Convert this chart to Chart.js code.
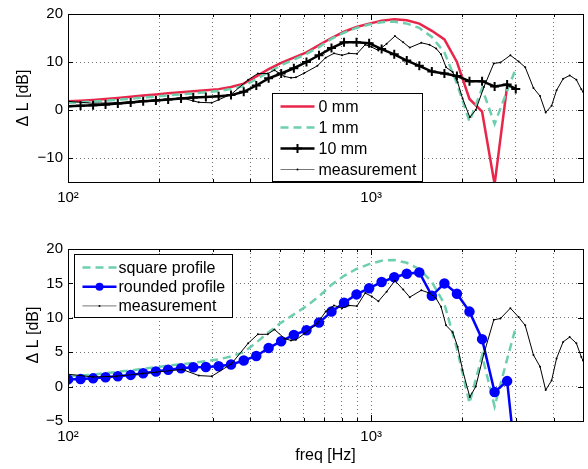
<!DOCTYPE html>
<html>
<head>
<meta charset="utf-8">
<script src="https://cdn.jsdelivr.net/npm/chart.js@4"></script>
<style>
  html, body { margin: 0; padding: 0; background: #fff; overflow: hidden; }
  #wrap { position: relative; width: 588px; height: 469px; overflow: hidden; }
  canvas { position: absolute; left: 0; }
  #top-chart { top: 0; }
  #bottom-chart { top: 225px; }
</style>
</head>
<body>
<div id="wrap">
  <canvas id="top-chart" width="590" height="225"></canvas>
  <canvas id="bottom-chart" width="590" height="244"></canvas>
</div>
<script>
// frequency grid of the simulations (Hz)
const modelFreq = [100, 110, 121, 133, 146, 161, 177, 195, 214, 236, 259, 285, 314, 345, 380, 418, 459, 505, 556, 612, 673, 740, 814, 895, 985, 1083, 1192, 1311, 1442, 1586, 1745, 1919, 2111, 2323, 2555, 2810, 3000];

// top panel: gap width series (dB)
const gap0mm = [1.8, 1.95, 2.1, 2.3, 2.5, 2.75, 3.0, 3.25, 3.5, 3.7, 3.9, 4.1, 4.35, 4.8, 5.5, 7.0, 8.5, 9.8, 10.9, 12.0, 13.5, 15.0, 16.3, 17.3, 18.0, 18.6, 18.9, 18.7, 18.0, 16.5, 14.7, 10.0, 2.3, -0.35, -15.5, 5.0, null];
const gap1mm = [1.5, 1.6, 1.75, 1.95, 2.15, 2.35, 2.6, 2.8, 3.05, 3.25, 3.45, 3.7, 3.95, 4.4, 5.0, 6.4, 7.9, 9.3, 10.5, 11.7, 13.1, 14.8, 16.1, 17.1, 17.8, 18.3, 18.4, 18.0, 17.1, 15.2, 12.0, 5.5, -2.4, 4.5, -2.9, 4.0, 8.6];
const gap10mm = [0.8, 0.9, 1.0, 1.15, 1.35, 1.55, 1.8, 2.0, 2.2, 2.4, 2.6, 2.7, 2.85, 3.1, 3.8, 5.1, 6.6, 7.6, 8.7, 10.0, 11.4, 12.9, 14.1, 14.1, 13.9, 12.7, 11.6, 10.3, 9.2, 8.0, 7.6, 7.1, 6.0, 6.0, 4.9, 5.3, 4.4];

// bottom panel: the square profile is the 1 mm curve
const roundedProfile = [1.05, 1.1, 1.2, 1.35, 1.5, 1.7, 1.95, 2.2, 2.45, 2.65, 2.8, 2.85, 2.95, 3.2, 3.8, 4.45, 5.6, 6.6, 7.5, 8.2, 9.3, 10.9, 12.2, 13.4, 14.3, 15.2, 15.9, 16.4, 16.6, 13.2, 15.0, 13.5, 10.9, 6.9, -0.8, 0.8, -11];

// measurement (shared by both panels)
const measFreq = [100, 121, 144, 176, 195, 238, 270, 298, 346, 393, 423, 456, 480, 518, 544, 565, 602, 665, 708, 754, 802, 844, 898, 956, 1005, 1057, 1125, 1198, 1276, 1341, 1464, 1558, 1639, 1701, 1767, 1858, 1929, 2003, 2116, 2214, 2356, 2539, 2671, 2880, 3066, 3224, 3431, 3608, 3766, 3940, 4090, 4299, 4520, 4755, 4937, 5000];
const measLevel = [1.8, 1.4, 1.5, 1.9, 2.1, 2.5, 1.6, 1.5, 3.3, 6.3, 7.6, 7.6, 8.3, 7.0, 6.7, 6.8, 7.7, 9.2, 10.9, 11.8, 11.4, 11.8, 11.7, 13.6, 13.1, 12.4, 13.8, 15.4, 14.1, 13.0, 14.0, 13.6, 12.8, 11.6, 8.9, 7.9, 5.8, 2.4, -1.5, 0, 4.8, 9.7, 9.9, 11.4, 10.1, 8.9, 4.6, 2.9, -0.5, 0.9, 4.1, 6.5, 7.2, 6.3, 4.3, 3.8];

// axes
const freqTicks = [100, 200, 300, 400, 500, 600, 700, 800, 900, 1000, 2000, 3000, 4000, 5000];
const decadeTicks = [100, 1000];
const decadeLabels = ['10\u00b2', '10\u00b3'];
const topYTicks = [-10, 0, 10, 20];
const bottomYTicks = [-5, 0, 5, 10, 15, 20];

Chart.defaults.font.family = '"Liberation Sans", Arial, Helvetica, sans-serif';
Chart.defaults.color = '#000';

function pairs(xs, ys) {
  return xs.map((x, i) => ({ x: x, y: ys[i] }));
}

function drawMarker(ctx, style, x, y, r, color) {
  ctx.save();
  ctx.strokeStyle = color;
  ctx.fillStyle = color;
  ctx.setLineDash([]);
  if (style === 'cross') {
    ctx.lineWidth = 2;
    ctx.beginPath();
    ctx.moveTo(x - r, y); ctx.lineTo(x + r, y);
    ctx.moveTo(x, y - r); ctx.lineTo(x, y + r);
    ctx.stroke();
  } else if (r > 0) {
    ctx.beginPath();
    ctx.arc(x, y, r, 0, Math.PI * 2);
    ctx.fill();
  }
  ctx.restore();
}

// box around the plot with inward ticks, like the original figure
const frame = {
  id: 'frame',
  afterDatasetsDraw(chart) {
    const { ctx, chartArea: a, scales } = chart;
    ctx.save();
    ctx.strokeStyle = '#000';
    ctx.lineWidth = 1;
    ctx.setLineDash([]);
    ctx.beginPath();
    freqTicks.forEach(f => {
      const px = Math.round(scales.x.getPixelForValue(f)) + 0.5;
      const len = decadeTicks.includes(f) ? 6 : 3;
      ctx.moveTo(px, a.bottom); ctx.lineTo(px, a.bottom - len);
      ctx.moveTo(px, a.top); ctx.lineTo(px, a.top + len);
    });
    scales.y.ticks.forEach(t => {
      const py = Math.round(scales.y.getPixelForValue(t.value)) + 0.5;
      ctx.moveTo(a.left, py); ctx.lineTo(a.left + 5, py);
      ctx.moveTo(a.right, py); ctx.lineTo(a.right - 5, py);
    });
    ctx.stroke();
    ctx.strokeRect(Math.round(a.left) + 0.5, Math.round(a.top) + 0.5,
      Math.round(a.right - a.left), Math.round(a.bottom - a.top));
    ctx.restore();
  }
};

// legend drawn inside the axes
const boxLegend = {
  id: 'boxLegend',
  afterDraw(chart, args, o) {
    const { ctx, chartArea } = chart;
    const x0 = Math.round(chartArea.left + o.left) + 0.5;
    const y0 = Math.round(chartArea.top + o.top) + 0.5;
    ctx.save();
    ctx.fillStyle = '#fff';
    ctx.fillRect(x0, y0, o.width, o.height);
    ctx.strokeStyle = '#000';
    ctx.lineWidth = 1;
    ctx.strokeRect(x0, y0, o.width, o.height);
    chart.data.datasets.forEach((ds, i) => {
      const y = y0 + o.firstRow + i * o.rowGap;
      ctx.save();
      ctx.strokeStyle = ds.legendColor || ds.borderColor;
      ctx.lineWidth = ds.borderWidth;
      ctx.setLineDash(ds.borderDash || []);
      ctx.beginPath();
      ctx.moveTo(x0 + o.lineStart, y);
      ctx.lineTo(x0 + o.lineEnd, y);
      ctx.stroke();
      ctx.restore();
      if (ds.pointRadius > 0) {
        drawMarker(ctx, ds.pointStyle, x0 + (o.lineStart + o.lineEnd) / 2, y, ds.pointRadius, ds.borderColor);
      }
      ctx.fillStyle = '#000';
      ctx.font = '16px "Liberation Sans", Arial, sans-serif';
      ctx.textBaseline = 'middle';
      ctx.fillText(ds.label, x0 + o.textStart, y + 1);
    });
    ctx.restore();
  }
};

function minus(v) {
  return String(v).replace('-', '\u2212');
}

function makeChart(id, datasets, yMin, yMax, yTicks, layout, legendOpts) {
  return new Chart(document.getElementById(id), {
    type: 'line',
    data: { datasets: datasets },
    plugins: [frame, boxLegend],
    options: {
      responsive: false,
      animation: false,
      events: [],
      layout: { padding: layout.padding },
      plugins: {
        legend: { display: false },
        tooltip: { enabled: false },
        boxLegend: legendOpts
      },
      elements: { line: { tension: 0 } },
      scales: {
        x: {
          type: 'logarithmic',
          min: 100,
          max: 5000,
          afterBuildTicks: s => { s.ticks = freqTicks.map(v => ({ value: v })); },
          afterFit: s => { s.height = layout.xHeight; },
          ticks: {
            autoSkip: false,
            maxRotation: 0,
            padding: layout.xTickPad,
            font: { size: 15 },
            callback: v => {
              const i = decadeTicks.indexOf(v);
              return i >= 0 ? decadeLabels[i] : '';
            }
          },
          grid: { color: 'rgba(0,0,0,0.55)', lineWidth: 1, drawTicks: false },
          border: { display: false, dash: [1, 3] },
          title: {
            display: !!layout.xTitle,
            text: layout.xTitle || '',
            font: { size: 16 },
            padding: { top: 0, bottom: 4 }
          }
        },
        y: {
          min: yMin,
          max: yMax,
          afterBuildTicks: s => { s.ticks = yTicks.map(v => ({ value: v })); },
          afterFit: s => { s.width = layout.yWidth; },
          ticks: { padding: 5, font: { size: 15 }, callback: v => minus(v) },
          grid: { color: 'rgba(0,0,0,0.55)', lineWidth: 1, drawTicks: false },
          border: { display: false, dash: [1, 3] },
          title: { display: true, text: '\u0394 L [dB]', font: { size: 16 }, padding: 0 }
        }
      }
    }
  });
}

const red = '#e8264a';
const teal = '#6dcfae';

const measurementSet = {
  label: 'measurement',
  data: pairs(measFreq, measLevel),
  borderColor: '#000',
  legendColor: '#777',
  borderWidth: 1,
  pointRadius: 1,
  pointStyle: 'circle',
  pointBackgroundColor: '#000',
  pointBorderWidth: 0,
  order: 1
};

makeChart('top-chart', [
  { label: '0 mm', data: pairs(modelFreq, gap0mm), borderColor: red, borderWidth: 2.5, pointRadius: 0, spanGaps: false, order: 4 },
  { label: '1 mm', data: pairs(modelFreq, gap1mm), borderColor: teal, borderWidth: 2.5, borderDash: [8, 5], pointRadius: 0, order: 3 },
  { label: '10 mm', data: pairs(modelFreq, gap10mm), borderColor: '#000', borderWidth: 2.5, pointStyle: 'cross', pointRadius: 4.5, pointBorderWidth: 2, pointBorderColor: '#000', order: 2 },
  Object.assign({}, measurementSet)
], -15, 20, topYTicks,
  { padding: { left: 14, top: 10, right: 1.6, bottom: 0 }, yWidth: 54, xHeight: 43, xTickPad: 7 },
  { left: 204, top: 79, width: 150, height: 88, firstRow: 13, rowGap: 21, lineStart: 8, lineEnd: 42, textStart: 46 }
);

makeChart('bottom-chart', [
  { label: 'square profile', data: pairs(modelFreq, gap1mm), borderColor: teal, borderWidth: 2.5, borderDash: [8, 5], pointRadius: 0, order: 3 },
  { label: 'rounded profile', data: pairs(modelFreq, roundedProfile), borderColor: '#0000ff', borderWidth: 2.5, pointStyle: 'circle', pointRadius: 4, pointBackgroundColor: '#0000ff', pointBorderColor: '#0000ff', order: 2 },
  Object.assign({}, measurementSet)
], -5, 20, bottomYTicks,
  { padding: { left: 24, top: 24, right: 1.6, bottom: 0 }, yWidth: 44, xHeight: 48, xTickPad: 7, xTitle: 'freq [Hz]' },
  { left: 6, top: 5, width: 158, height: 63, firstRow: 13, rowGap: 19.2, lineStart: 8, lineEnd: 42, textStart: 44 }
);
</script>
</body>
</html>
